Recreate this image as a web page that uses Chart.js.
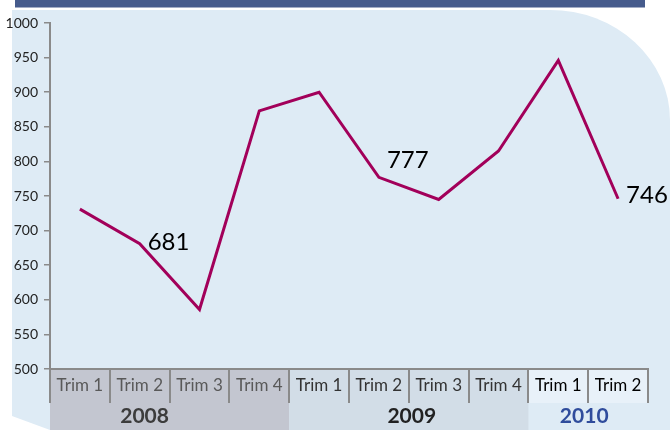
<!DOCTYPE html>
<html>
<head>
<meta charset="utf-8">
<script src="https://cdn.jsdelivr.net/npm/chart.js@4"></script>
<style>
  body { margin: 0; background: #fff; }
  canvas { display: block; }
</style>
</head>
<body>
<canvas id="chart" width="670" height="430"></canvas>
<script>
// data
const quarters = ['Trim 1', 'Trim 2', 'Trim 3', 'Trim 4', 'Trim 1', 'Trim 2', 'Trim 3', 'Trim 4', 'Trim 1', 'Trim 2'];
const values = [731, 681, 586, 873, 900, 777, 745, 815, 946, 746];
const years = ['2008', '2009', '2010'];
const yearSpans = [4, 4, 2];
const labelled = [1, 5, 9];
const yTicks = [500, 550, 600, 650, 700, 750, 800, 850, 900, 950, 1000];

const LINE = '#a2005a';
const AXIS = '#8a8a8a';
const FONT = 'Lato, "Open Sans", sans-serif';

const backdrop = {
  id: 'backdrop',
  beforeDraw(chart) {
    const ctx = chart.ctx;
    const area = chart.chartArea;
    ctx.save();
    // top bar
    ctx.fillStyle = '#465b8c';
    ctx.fillRect(15, 0, 630, 7.5);
    // light blue panel, round top-right corner, cut bottom-left corner
    ctx.fillStyle = '#deebf5';
    ctx.beginPath();
    ctx.moveTo(12, 10);
    ctx.lineTo(550, 10);
    ctx.ellipse(550, 120, 120, 110, 0, -Math.PI / 2, 0, false);
    ctx.lineTo(670, 430);
    ctx.lineTo(50, 430);
    ctx.lineTo(12, 416);
    ctx.closePath();
    ctx.fill();

    // year bands under the category axis
    const catW = (area.right - area.left) / quarters.length;
    const bandFill = ['#c3c6d0', '#d2dde7', null];
    let start = 0;
    yearSpans.forEach((span, i) => {
      const x0 = area.left + start * catW;
      const w = span * catW;
      if (bandFill[i]) {
        ctx.fillStyle = bandFill[i];
        ctx.fillRect(x0, area.bottom, w, chart.height - area.bottom);
      } else {
        ctx.fillStyle = '#e8f1f9';
        ctx.fillRect(x0, area.bottom, w, 34);
      }
      start += span;
    });
    ctx.restore();
  },
  afterDraw(chart) {
    const ctx = chart.ctx;
    const area = chart.chartArea;
    const catW = (area.right - area.left) / quarters.length;
    ctx.save();
    // year labels
    const yearColor = ['#3c3c3c', '#222222', '#2f4c9c'];
    const yearShift = [-25, 3, -4];
    ctx.font = 'bold 21px ' + FONT;
    ctx.textAlign = 'center';
    ctx.textBaseline = 'middle';
    let start = 0;
    yearSpans.forEach((span, i) => {
      const cx = area.left + (start + span / 2) * catW + yearShift[i];
      ctx.fillStyle = yearColor[i];
      ctx.fillText(years[i], cx, 416);
      start += span;
    });
    // value labels next to some points
    const meta = chart.getDatasetMeta(0);
    const lift = [-1, -17, -4];
    ctx.font = '24px ' + FONT;
    ctx.textAlign = 'left';
    ctx.fillStyle = '#000';
    labelled.forEach((idx, k) => {
      const pt = meta.data[idx];
      ctx.fillText(String(values[idx]), pt.x + 8, pt.y + lift[k]);
    });
    ctx.restore();
  }
};

new Chart(document.getElementById('chart'), {
  type: 'line',
  data: {
    labels: quarters,
    datasets: [{
      data: values,
      borderColor: LINE,
      borderWidth: 3,
      pointRadius: 0,
      tension: 0,
      fill: false
    }]
  },
  options: {
    responsive: false,
    animation: false,
    devicePixelRatio: 1,
    layout: { padding: { top: 23, right: 22, left: 0, bottom: 0 } },
    plugins: {
      legend: { display: false },
      tooltip: { enabled: false }
    },
    scales: {
      x: {
        type: 'category',
        offset: true,
        grid: {
          offset: true,
          drawOnChartArea: false,
          tickLength: 34,
          color: AXIS,
          lineWidth: 2
        },
        border: { color: AXIS, width: 2 },
        ticks: {
          autoSkip: false,
          maxRotation: 0,
          padding: -28,
          font: { family: FONT, size: 17 },
          color: ctx => ctx.index < 4 ? '#595959' : (ctx.index < 8 ? '#333333' : '#000000')
        },
        afterFit(scale) { scale.height = 61; }
      },
      y: {
        min: 500,
        max: 1000,
        afterBuildTicks(scale) { scale.ticks = yTicks.map(v => ({ value: v })); },
        grid: {
          drawOnChartArea: false,
          tickLength: 6,
          color: AXIS,
          lineWidth: 1.5
        },
        border: { color: AXIS, width: 2 },
        ticks: {
          padding: 6,
          font: { family: FONT, size: 14 },
          color: '#222',
          callback: v => String(v)
        },
        afterFit(scale) { scale.width = 50; }
      }
    }
  },
  plugins: [backdrop]
});
</script>
</body>
</html>
